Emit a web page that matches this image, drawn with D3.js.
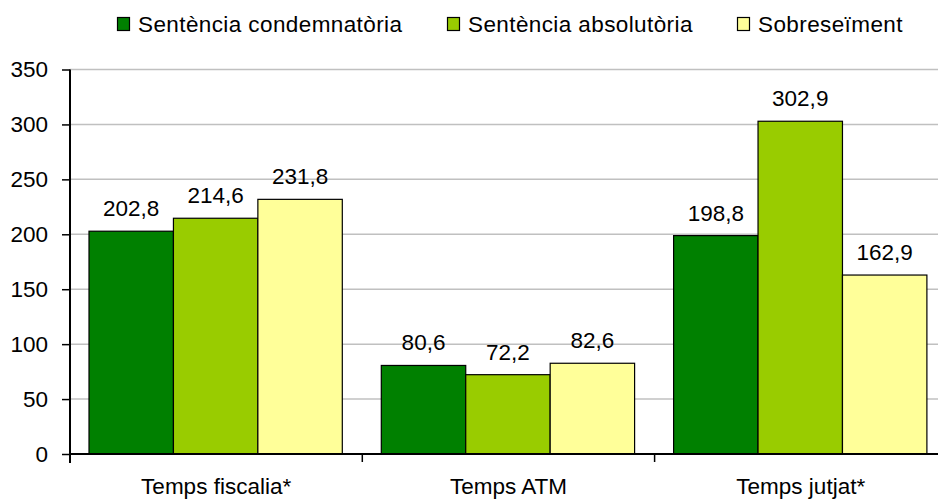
<!DOCTYPE html>
<html>
<head>
<meta charset="utf-8">
<script src="https://cdn.jsdelivr.net/npm/d3@7"></script>
<style>
  body { margin: 0; background: #fff; }
  svg { display: block; font-family: "Liberation Sans", Arial, sans-serif; }
</style>
</head>
<body>
<div id="container"></div>
<script>
// data
const categories = ["Temps fiscalia*", "Temps ATM", "Temps jutjat*"];
const seriesNames = ["Sentència condemnatòria", "Sentència absolutòria", "Sobreseïment"];
const condemnatoria = [202.8, 80.6, 198.8];
const absolutoria = [214.6, 72.2, 302.9];
const sobreseiment = [231.8, 82.6, 162.9];
const yTicks = [0, 50, 100, 150, 200, 250, 300, 350];

const seriesValues = [condemnatoria, absolutoria, sobreseiment];
const colors = ["#008000", "#99CC00", "#FFFF99"];

// canvas
const w = 938;
const h = 499;
const plotLeft = 70;
const plotTop = 69.5;
const plotBottom = 454;
const fontSize = 22.5;

const svg = d3.select("#container")
              .append("svg")
              .attr("width", w)
              .attr("height", h);

// scales
const xScale = d3.scaleBand()
                 .domain(categories)
                 .range([plotLeft, plotLeft + 3 * 292.3])
                 .paddingInner(0)
                 .paddingOuter(0);

const xInner = d3.scaleBand()
                 .domain(d3.range(seriesNames.length))
                 .range([19, 292.3 - 20]);

const yScale = d3.scaleLinear()
                 .domain([0, 350])
                 .range([plotBottom, plotTop]);

// gridlines
svg.append("g")
   .selectAll("line")
   .data(yTicks.filter(d => d > 0))
   .enter()
   .append("line")
   .attr("x1", plotLeft)
   .attr("x2", w)
   .attr("y1", d => yScale(d))
   .attr("y2", d => yScale(d))
   .attr("stroke", "#c0c0c0")
   .attr("stroke-width", 1.5);

// bars
const groups = svg.selectAll(".cat")
                  .data(categories)
                  .enter()
                  .append("g")
                  .attr("class", "cat")
                  .attr("transform", d => "translate(" + xScale(d) + ",0)");

groups.selectAll("rect")
      .data((d, i) => seriesValues.map((s, j) => ({ s: j, v: s[i] })))
      .enter()
      .append("rect")
      .attr("x", d => xInner(d.s))
      .attr("y", d => yScale(d.v))
      .attr("width", xInner.bandwidth())
      .attr("height", d => plotBottom - yScale(d.v))
      .attr("fill", d => colors[d.s])
      .attr("stroke", "#000")
      .attr("stroke-width", 1.2);

groups.selectAll("text.lbl")
      .data((d, i) => seriesValues.map((s, j) => ({ s: j, v: s[i] })))
      .enter()
      .append("text")
      .attr("class", "lbl")
      .attr("x", d => xInner(d.s) + xInner.bandwidth() / 2)
      .attr("y", d => yScale(d.v) - 15)
      .attr("text-anchor", "middle")
      .style("font-size", fontSize + "px")
      .text(d => d3.format(".1f")(d.v).replace(".", ","));

// axes
const yAxis = d3.axisLeft(yScale)
                .tickValues(yTicks)
                .tickSize(8)
                .tickPadding(14);

const yG = svg.append("g")
              .attr("transform", "translate(" + plotLeft + ",0)")
              .call(yAxis);
yG.attr("font-family", null);
yG.select(".domain").attr("stroke-width", 2).attr("d", "M0," + plotTop + "V" + (plotBottom + 9));
yG.selectAll(".tick line").attr("stroke-width", 1.5);
yG.selectAll("text").style("font-size", fontSize + "px").attr("fill", "#000");

const xAxis = d3.axisBottom(xScale)
                .tickSize(0)
                .tickPadding(24);

const xG = svg.append("g")
              .attr("transform", "translate(0," + plotBottom + ")")
              .call(xAxis);
xG.attr("font-family", null);
xG.select(".domain").attr("stroke-width", 2).attr("d", "M" + plotLeft + ",0H" + w);
xG.selectAll("text").style("font-size", fontSize + "px").attr("fill", "#000").attr("dy", "0.71em");

// category separator ticks
svg.append("g")
   .selectAll("line")
   .data(categories.slice(1))
   .enter()
   .append("line")
   .attr("x1", d => xScale(d))
   .attr("x2", d => xScale(d))
   .attr("y1", plotBottom)
   .attr("y2", plotBottom + 8)
   .attr("stroke", "#000")
   .attr("stroke-width", 1.5);

// legend
const legendX = [117, 447, 737];
const legend = svg.append("g")
                  .selectAll("g")
                  .data(seriesNames)
                  .enter()
                  .append("g")
                  .attr("transform", (d, i) => "translate(" + legendX[i] + ",17)");

legend.append("rect")
      .attr("x", 0.5)
      .attr("y", 0.5)
      .attr("width", 12)
      .attr("height", 13)
      .attr("fill", (d, i) => colors[i])
      .attr("stroke", "#000")
      .attr("stroke-width", 1.2);

legend.append("text")
      .attr("x", 21)
      .attr("y", 15)
      .style("font-size", fontSize + "px")
      .style("letter-spacing", "0.4px")
      .text(d => d);
</script>
</body>
</html>
